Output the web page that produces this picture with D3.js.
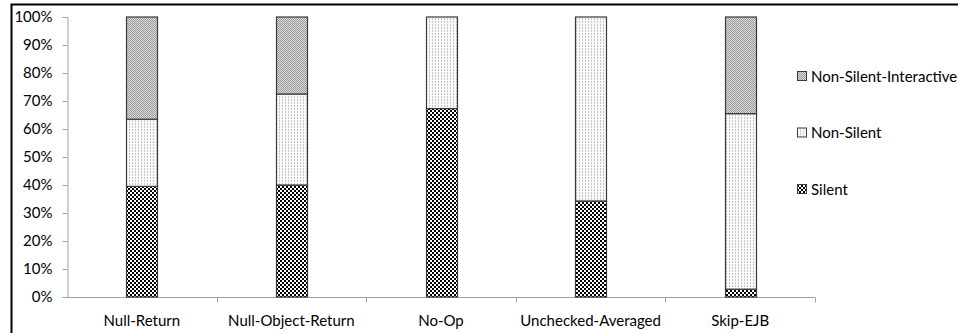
<!DOCTYPE html>
<html><head><meta charset="utf-8">
<script src="https://cdn.jsdelivr.net/npm/d3@7"></script>
<style>
html,body{margin:0;padding:0;background:#fff;}
svg{display:block;}
text{font-family:"Lato","Open Sans",sans-serif;fill:#000;}
</style></head>
<body>
<svg id="chart" width="958" height="333"></svg>
<script>
const categories = ["Null-Return","Null-Object-Return","No-Op","Unchecked-Averaged","Skip-EJB"];
const silent = [39.5, 40.0, 67.3, 34.3, 2.8];
const nonSilent = [24.0, 32.5, 32.7, 65.7, 62.7];
const nonSilentInteractive = [36.5, 27.5, 0, 0, 34.5];
const yTicks = [0,10,20,30,40,50,60,70,80,90,100];
const seriesNames = ["Silent","Non-Silent","Non-Silent-Interactive"];

const svg = d3.select("#chart");
const defs = svg.append("defs");

// Silent: black/white checkerboard
let p = defs.append("pattern").attr("id","pSilent").attr("width",4).attr("height",4).attr("patternUnits","userSpaceOnUse");
p.append("rect").attr("width",4).attr("height",4).attr("fill","#fff");
p.append("rect").attr("width",2).attr("height",2).attr("fill","#000");
p.append("rect").attr("x",2).attr("y",2).attr("width",2).attr("height",2).attr("fill","#000");
// Non-Silent: light dots
p = defs.append("pattern").attr("id","pNon").attr("width",3).attr("height",3).attr("patternUnits","userSpaceOnUse");
p.append("rect").attr("width",3).attr("height",3).attr("fill","#fafafa");
p.append("rect").attr("width",1).attr("height",2).attr("fill","#c4c4c4");
// Interactive: grey fine checker
p = defs.append("pattern").attr("id","pInt").attr("width",2).attr("height",2).attr("patternUnits","userSpaceOnUse");
p.append("rect").attr("width",2).attr("height",2).attr("fill","#dcdcdc");
p.append("rect").attr("width",1).attr("height",1).attr("fill","#9a9a9a");
p.append("rect").attr("x",1).attr("y",1).attr("width",1).attr("height",1).attr("fill","#9a9a9a");

const fills = {"Silent":"url(#pSilent)","Non-Silent":"url(#pNon)","Non-Silent-Interactive":"url(#pInt)"};

// outer frame
svg.append("path").attr("d","M11.5,333 L11.5,4.5 L958,4.5").attr("fill","none").attr("stroke","#000").attr("stroke-width",2);

const x0 = 67, x1 = 815, yTop = 17, yBot = 297;
const x = d3.scaleBand().domain(categories).range([x0,x1]).paddingInner(0).paddingOuter(0);
const y = d3.scaleLinear().domain([0,100]).range([yBot,yTop]);

// Y axis
const yAxis = d3.axisLeft(y).tickValues(yTicks).tickFormat(d=>d+"%").tickSize(5).tickPadding(10);
const gy = svg.append("g").attr("transform",`translate(${x0+0.5},0)`).call(yAxis);
gy.select(".domain").attr("stroke","#a0a0a0");
gy.selectAll(".tick line").attr("stroke","#a0a0a0");
gy.selectAll("text").style("font-size","15px").attr("fill","#000");

// X axis
const gx = svg.append("g").attr("transform",`translate(0,${yBot+0.5})`);
gx.append("line").attr("x1",x0).attr("x2",x1).attr("stroke","#a0a0a0");
const bounds = categories.map(c=>x(c)).concat([x1]);
gx.selectAll("line.tk").data(bounds.slice(1)).enter().append("line").attr("class","tk")
  .attr("x1",d=>Math.round(d)+0.5).attr("x2",d=>Math.round(d)+0.5).attr("y1",0).attr("y2",5).attr("stroke","#a0a0a0");
gx.selectAll("text").data(categories).enter().append("text")
  .attr("x",d=>x(d)+x.bandwidth()/2).attr("y",28).attr("text-anchor","middle").style("font-size","15px").text(d=>d);

// stacked bars
const rows = categories.map((c,i)=>({cat:c,"Silent":silent[i],"Non-Silent":nonSilent[i],"Non-Silent-Interactive":nonSilentInteractive[i]}));
const stack = d3.stack().keys(seriesNames)(rows);
const bw = 31;
svg.append("g").selectAll("g").data(stack).enter().append("g")
  .attr("fill",d=>fills[d.key])
  .selectAll("rect").data(d=>d.filter(s=>s[1]-s[0]>0)).enter().append("rect")
  .attr("x",d=>Math.round(x(d.data.cat)+x.bandwidth()/2-bw/2)+0.5)
  .attr("y",d=>y(d[1]))
  .attr("width",bw)
  .attr("height",d=>y(d[0])-y(d[1]))
  .attr("stroke","#3a3a3a").attr("stroke-width",1.2);

// legend
const legendItems = ["Non-Silent-Interactive","Non-Silent","Silent"];
const lg = svg.append("g").selectAll("g").data(legendItems).enter().append("g")
  .attr("transform",(d,i)=>`translate(797,${76+i*56.5})`);
lg.append("rect").attr("x",0.5).attr("y",-4.5).attr("width",9).attr("height",9).attr("fill",d=>fills[d]).attr("stroke","#3a3a3a");
lg.append("text").attr("x",14).attr("y",5.5).style("font-size","15px").text(d=>d);
</script>
</body></html>
